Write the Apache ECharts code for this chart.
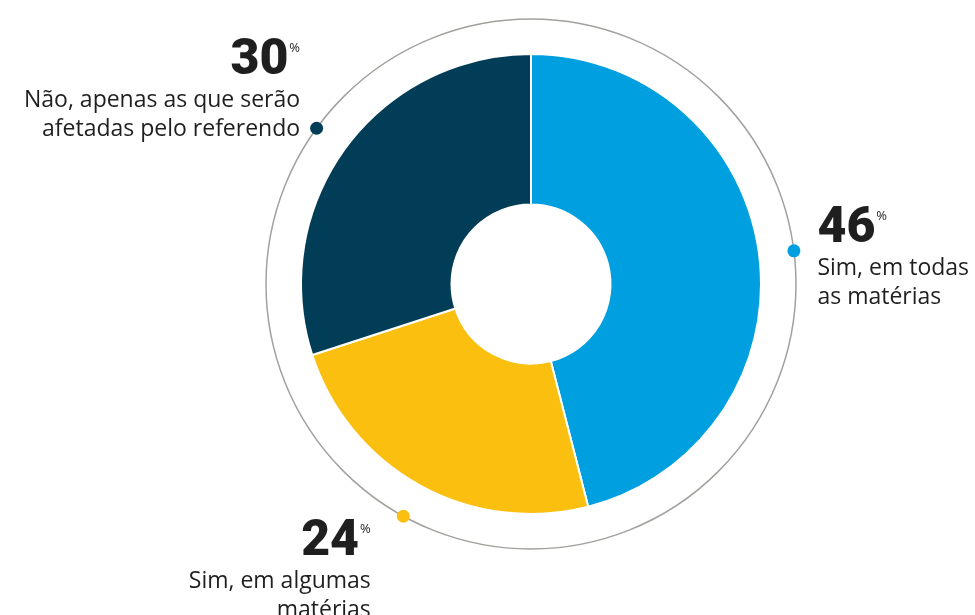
<!DOCTYPE html>
<html>
<head>
<meta charset="utf-8">
<script src="https://cdn.jsdelivr.net/npm/echarts@6/dist/echarts.min.js"></script>
<style>
  html, body { margin: 0; padding: 0; background: #fff; }
  #main { width: 975px; height: 615px; }
</style>
</head>
<body>
<div id="main"></div>
<script>
// dados
var answers = ['Sim, em todas\nas matérias', 'Sim, em algumas\nmatérias', 'Não, apenas as que serão\nafetadas pelo referendo'];
var shares = [46, 24, 30];
var colors = ['#009fdf', '#fbbf0f', '#023d57'];

var myChart = echarts.init(document.getElementById('main'));

// ponto no anel cinza, no meio de cada fatia
var total = shares.reduce(function (a, b) { return a + b; }, 0);
var acc = 0;
var dots = [];
for (var i = 0; i < shares.length; i++) {
    var mid = (acc + shares[i] / 2) / total * 360;
    acc += shares[i];
    dots.push([1, mid]);
}

// posicao do rotulo em relacao ao ponto
var labelPos = [
    { position: [30, -39], align: 'left' },
    { position: [-26, 8], align: 'right' },
    { position: [-10, -85], align: 'right' }
];

var option = {
    animation: false,
    polar: { center: [531, 284], radius: 265 },
    angleAxis: {
        type: 'value', min: 0, max: 360, startAngle: 90, clockwise: true,
        axisLine: { show: true, lineStyle: { color: '#a3a19d', width: 1.5 } },
        axisTick: { show: false }, axisLabel: { show: false }, splitLine: { show: false }
    },
    radiusAxis: {
        type: 'value', min: 0, max: 1,
        axisLine: { show: false }, axisTick: { show: false }, axisLabel: { show: false }, splitLine: { show: false }
    },
    series: [
        {
            type: 'pie',
            center: [531, 284],
            radius: [79.5, 230],
            startAngle: 90,
            clockwise: true,
            silent: true,
            label: { show: false },
            labelLine: { show: false },
            itemStyle: { borderColor: '#fff', borderWidth: 2 },
            data: shares.map(function (v, i) {
                return { value: v, name: answers[i], itemStyle: { color: colors[i] } };
            })
        },
        {
            type: 'scatter',
            coordinateSystem: 'polar',
            symbolSize: 13,
            silent: true,
            data: dots.map(function (d, i) {
                return {
                    value: d,
                    itemStyle: { color: colors[i], opacity: 1 },
                    label: {
                        show: true,
                        opacity: 1,
                        position: labelPos[i].position,
                        align: labelPos[i].align,
                        verticalAlign: 'top',
                        formatter: function () {
                            var lines = answers[i].split('\n').map(function (s) { return '{t|' + s + '}'; });
                            return '{n|' + shares[i] + '}{p|%}\n' + lines.join('\n');
                        },
                        rich: {
                            n: { fontFamily: 'Roboto', fontWeight: 900, fontSize: 50, lineHeight: 49, color: '#1f1f1f', align: labelPos[i].align },
                            p: { fontFamily: 'Open Sans', fontSize: 13, lineHeight: 49, verticalAlign: 'top', padding: [5, 0, 0, 1], color: '#1f1f1f' },
                            t: { fontFamily: 'Open Sans', fontSize: 23, lineHeight: 29, color: '#1f1f1f', align: labelPos[i].align }
                        }
                    }
                };
            })
        }
    ]
};

myChart.setOption(option);
</script>
</body>
</html>
